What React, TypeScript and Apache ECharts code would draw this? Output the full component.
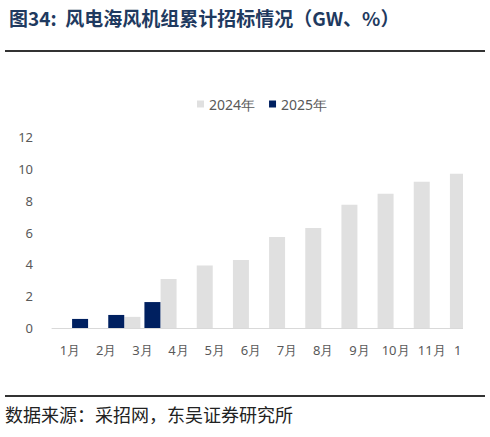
import { useEffect, useRef } from 'react';
import * as echarts from 'echarts';

const months = ['1月', '2月', '3月', '4月', '5月', '6月', '7月', '8月', '9月', '10月', '11月', '12月'];
const values2024 = [0, 0, 0.7, 3.08, 3.92, 4.27, 5.72, 6.29, 7.74, 8.43, 9.19, 9.69];
const values2025 = [0.57, 0.82, 1.63, null, null, null, null, null, null, null, null, null];
const yTicks = { min: 0, max: 12, interval: 2 };

const App = () => {
  const chartRef = useRef<HTMLDivElement>(null);

  useEffect(() => {
    document.body.style.margin = '0';
    if (!chartRef.current) return;
    const myChart = echarts.init(chartRef.current, null, { renderer: 'svg' });

    const axisFont = { color: '#595959', fontSize: 13, fontFamily: 'Noto Sans, sans-serif' };

    const option = {
      animation: false,
      backgroundColor: '#fff',
      title: {
        text: '图34:  风电海风机组累计招标情况（GW、%）',
        left: 4,
        top: 3,
        textStyle: {
          color: '#1F3A60',
          fontSize: 19,
          fontWeight: 'bold',
          fontFamily: '"Noto Sans CJK SC", sans-serif'
        }
      },
      legend: {
        data: ['2024年', '2025年'],
        left: 192,
        top: 92,
        icon: 'rect',
        itemWidth: 7,
        itemHeight: 7,
        itemGap: 14,
        textStyle: { ...axisFont, fontSize: 14 }
      },
      grid: { left: 52, right: 4, top: 137, bottom: 109 },
      xAxis: {
        type: 'category',
        data: months,
        axisLine: { lineStyle: { color: '#D9D9D9', width: 1 } },
        axisTick: { show: false },
        axisLabel: { ...axisFont, margin: 15, interval: 0 }
      },
      yAxis: {
        type: 'value',
        ...yTicks,
        axisLine: { show: false },
        axisTick: { show: false },
        splitLine: { show: false },
        axisLabel: { ...axisFont, margin: 19 }
      },
      series: [
        {
          name: '2024年',
          type: 'bar',
          data: values2024,
          barWidth: 16,
          barGap: '25%',
          barCategoryGap: '0%',
          itemStyle: { color: '#E0E0E0' }
        },
        {
          name: '2025年',
          type: 'bar',
          data: values2025,
          barWidth: 16,
          itemStyle: { color: '#002060' }
        }
      ],
      graphic: [
        // the source picture crops the plot on the right
        {
          type: 'rect',
          z: 100,
          shape: { x: 463, y: 125, width: 30, height: 215 },
          style: { fill: '#fff' }
        },
        {
          type: 'rect',
          z: 100,
          shape: { x: 461, y: 340, width: 32, height: 35 },
          style: { fill: '#fff' }
        },
        {
          type: 'line',
          z: 101,
          shape: { x1: 5, y1: 51, x2: 485, y2: 51 },
          style: { stroke: '#333', lineWidth: 2 }
        },
        {
          type: 'line',
          z: 101,
          shape: { x1: 5, y1: 396, x2: 485, y2: 396 },
          style: { stroke: '#333', lineWidth: 2 }
        },
        {
          type: 'text',
          z: 101,
          x: 5,
          y: 405,
          style: {
            text: '数据来源：采招网，东吴证券研究所',
            fill: '#222',
            fontSize: 18,
            fontFamily: '"Noto Sans CJK SC", sans-serif'
          }
        }
      ]
    };

    myChart.setOption(option);

    const handleResize = () => myChart.resize();
    window.addEventListener('resize', handleResize);

    return () => {
      window.removeEventListener('resize', handleResize);
      myChart.dispose();
    };
  }, []);

  return <div ref={chartRef} style={{ width: 490, height: 437 }} />;
};

export default App;
